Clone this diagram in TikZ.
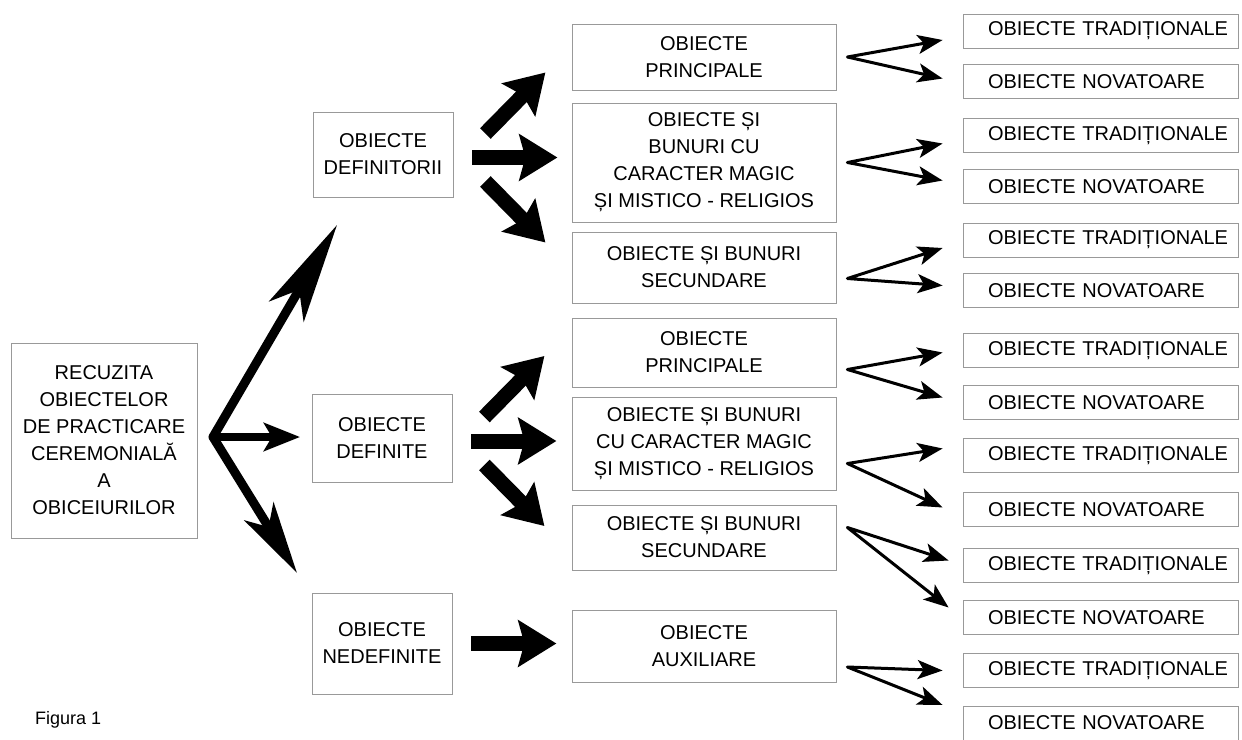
\documentclass[tikz,border=0pt]{standalone}
\usepackage{fontspec}
\setmainfont{Liberation Sans}
\usetikzlibrary{arrows.meta,calc}

\begin{document}
\begin{tikzpicture}[x=1pt, y=-1pt,
  box/.style={draw=black!40, line width=.8pt, align=center, inner sep=0pt, font=\fontsize{20}{27}\selectfont},
  lbox/.style={box, minimum width=186pt, minimum height=195pt},
  mbox/.style={box, minimum width=140pt},
  cbox/.style={box, minimum width=264pt},
  rbox/.style={box, text width=225pt, inner xsep=25pt, minimum height=34pt, align=left},
  bigarr/.style={line width=9pt, line cap=round},
  medarr/.style={line width=15pt, -{Stealth[length=38pt,width=46pt,inset=6pt]}},
  thinarr/.style={line width=3pt, line join=round, {Stealth[length=25pt,width=19pt,inset=6pt]}-{Stealth[length=25pt,width=19pt,inset=6pt]}}]
             \useasboundingbox (0,0) rectangle (1242,739);

             \node[lbox] (rec) at (104,440.5) {RECUZITA\\OBIECTELOR\\DE PRACTICARE\\CEREMONIALĂ\\A\\OBICEIURILOR};

             \node[mbox, minimum height=85pt] (defr) at (383,154.5) {OBIECTE\\DEFINITORII};
             \node[mbox, minimum height=88pt] (defn) at (382,438) {OBIECTE\\DEFINITE};
             \node[mbox, minimum height=101pt] (ndef) at (382,643.5) {OBIECTE\\NEDEFINITE};

             \node[cbox, minimum height=66pt] (p1) at (704,57) {OBIECTE\\PRINCIPALE};
             \node[cbox, minimum height=119pt] (m1) at (704,162.5) {OBIECTE ȘI\\BUNURI CU\\CARACTER MAGIC\\ȘI MISTICO - RELIGIOS};
             \node[cbox, minimum height=71pt] (s1) at (704,267.5) {OBIECTE ȘI BUNURI\\SECUNDARE};
             \node[cbox, minimum height=69pt] (p2) at (704,352.5) {OBIECTE\\PRINCIPALE};
             \node[cbox, minimum height=93pt] (m2) at (704,443.5) {OBIECTE ȘI BUNURI\\CU CARACTER MAGIC\\ȘI MISTICO - RELIGIOS};
             \node[cbox, minimum height=65pt] (s2) at (704,537.5) {OBIECTE ȘI BUNURI\\SECUNDARE};
             \node[cbox, minimum height=72pt] (aux) at (704,646) {OBIECTE\\AUXILIARE};

             \foreach \i/\yt/\yn in {1/31/81.5, 2/135.5/186.5, 3/240/290.5, 4/350.5/402.5, 5/455.5/509.5, 6/565.5/617.5, 7/670.5/723} {
               \node[rbox] (tr\i) at (1100.5,\yt) {\mbox{OBIECTE TRADIȚIONALE}};
               \node[rbox] (nv\i) at (1100.5,\yn) {OBIECTE NOVATOARE};
             }

             \node[anchor=west, inner sep=0pt, font=\fontsize{18}{22}\selectfont] (fig) at (35,720) {Figura 1};

             \coordinate (hub) at (213,437);
             \coordinate (hubup) at (337,225);
             \coordinate (hubmid) at (300,437);
             \coordinate (hubdn) at (297,573);
             \draw[bigarr, -{Stealth[length=100pt,width=40pt,inset=25pt]}] (hub) -- (hubup);
             \draw[bigarr, line width=8pt, -{Stealth[length=36pt,width=28pt,inset=8pt]}] (hub) -- (hubmid);
             \draw[bigarr, -{Stealth[length=72pt,width=34pt,inset=18pt]}] (hub) -- (hubdn);

             \foreach \b in {defr,defn} {
               \draw[medarr] ($(\b.east)+(32,-21)$) -- ($(\b.east)+(92,-82)$);
               \draw[medarr] ($(\b.east)+(19,3)$) -- ($(\b.east)+(104,3)$);
               \draw[medarr] ($(\b.east)+(32,27)$) -- ($(\b.east)+(92,88)$);
             }
             \draw[medarr] ($(ndef.east)+(19,0)$) -- ($(ndef.east)+(104,0)$);

             \foreach \s/\dv/\i/\dt/\dn/\dx in {p1/0/1/9/-3/-20, m1/0/2/8/-6/-20, s1/11/3/8/-5/-20, p2/17/4/2/-5/-20, m2/20/5/-7/-2/-20, s2/-10/6/-5/-10/-14, aux/21/7/0/-18/-20} {
               \draw[thinarr] ($(tr\i.west)+(\dx,\dt)$) -- ($(\s.east)+(11,\dv)$) -- ($(nv\i.west)+(\dx,\dn)$);
             }
             \end{tikzpicture}
\end{document}
